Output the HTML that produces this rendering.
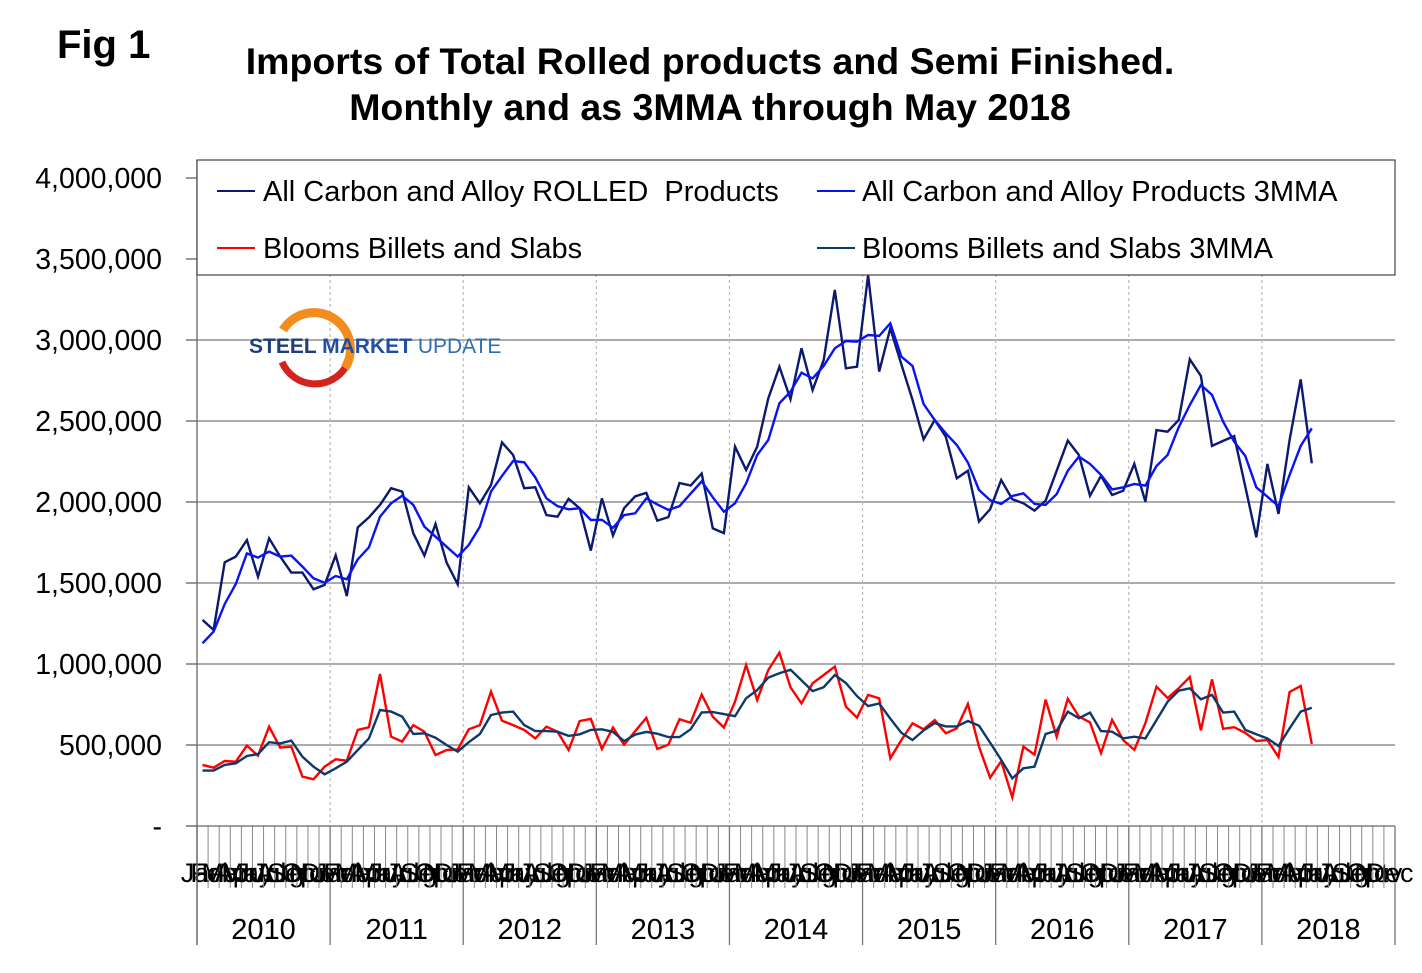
<!DOCTYPE html>
<html><head><meta charset="utf-8"><style>
html,body{margin:0;padding:0;background:#fff;}
svg{display:block;font-family:"Liberation Sans",Arial,sans-serif;}
</style></head><body>
<svg id="chart" width="1422" height="973" viewBox="0 0 1422 973" xmlns="http://www.w3.org/2000/svg">
<text x="57" y="58" font-size="40" font-weight="bold">Fig 1</text>
<text x="710" y="74" font-size="37.5" font-weight="bold" text-anchor="middle">Imports of Total Rolled products and Semi Finished.</text>
<text x="710" y="120" font-size="37.5" font-weight="bold" text-anchor="middle">Monthly and as 3MMA through May 2018</text>
<g id="grid"></g>
<g id="axes"></g>
<g id="series"></g>
<g>
  <path d="M283 330 A36 36 0 1 1 345 368" fill="none" stroke="#f28c1e" stroke-width="9"/>
  <path d="M282 362 A36 36 0 0 0 345 368" fill="none" stroke="#d2231f" stroke-width="7"/>
  <text x="249" y="353" font-size="21" font-weight="bold" fill="#1c3f7a">STEEL <tspan fill="#1f4fa0">MARKET</tspan> <tspan font-weight="normal" fill="#2f6db5">UPDATE</tspan></text>
</g>
<g>
  <rect x="197" y="160" width="1198" height="115" fill="#fff" stroke="#444" stroke-width="1.2"/>
  <g><line x1="217" y1="191" x2="255" y2="191" stroke="#0b1a6e" stroke-width="2"/><text x="263" y="201" font-size="29" xml:space="preserve" style="white-space:pre">All Carbon and Alloy ROLLED  Products</text></g>
  <g><line x1="817" y1="191" x2="855" y2="191" stroke="#0a14f0" stroke-width="2"/><text x="862" y="201" font-size="29">All Carbon and Alloy Products 3MMA</text></g>
  <g><line x1="217" y1="248" x2="255" y2="248" stroke="#ff0000" stroke-width="2"/><text x="263" y="258" font-size="29">Blooms Billets and Slabs</text></g>
  <g><line x1="817" y1="248" x2="855" y2="248" stroke="#0d3a6a" stroke-width="2"/><text x="862" y="258" font-size="29">Blooms Billets and Slabs 3MMA</text></g>
</g>
</svg>
<script>
const months = ["Jan","Feb","Mar","Apr","May","Jun","Jul","Aug","Sep","Oct","Nov","Dec"];
const years = ["2010","2011","2012","2013","2014","2015","2016","2017","2018"];
const yTicks = [0,500000,1000000,1500000,2000000,2500000,3000000,3500000,4000000];
const yTickLabels = ["-","500,000","1,000,000","1,500,000","2,000,000","2,500,000","3,000,000","3,500,000","4,000,000"];
// values in thousands of tons, Jan 2010 .. May 2018
const rolled = [1272,1210,1628,1663,1765,1539,1776,1663,1564,1564,1461,1488,
1671,1420,1844,1905,1982,2085,2064,1807,1669,1864,1626,1492,
2091,1992,2105,2368,2290,2085,2091,1920,1909,2020,1961,1700,
2022,1793,1962,2035,2057,1885,1907,2117,2101,2176,1837,1808,
2342,2198,2342,2640,2835,2634,2949,2691,2877,3309,2825,2835,
3401,2805,3072,2849,2630,2387,2506,2403,2146,2193,1879,1955,
2136,2017,1992,1947,2008,2193,2379,2290,2039,2161,2043,2070,
2235,2002,2444,2434,2506,2881,2778,2346,2377,2407,2095,1782,
2235,1926,2383,2757,2239];
const rolled3 = [1128,1200,1370,1494,1683,1657,1694,1663,1669,1601,1529,1502,
1543,1523,1646,1720,1909,1992,2039,1982,1848,1786,1724,1663,
1735,1848,2064,2161,2253,2245,2152,2023,1975,1955,1961,1889,
1890,1841,1919,1930,2022,1985,1951,1974,2051,2128,2029,1940,
1992,2115,2290,2383,2609,2681,2798,2763,2840,2949,2994,2990,
3031,3025,3103,2897,2840,2605,2506,2424,2352,2243,2074,2012,
1988,2037,2054,1988,1982,2049,2193,2280,2235,2167,2078,2091,
2111,2101,2222,2290,2461,2599,2722,2661,2496,2372,2284,2091,
2033,1975,2167,2346,2455];
const blooms = [377,360,401,397,496,434,613,484,490,305,288,366,
412,403,593,609,938,551,521,623,582,438,469,473,
597,623,829,650,623,593,541,613,582,469,648,661,
476,608,502,586,667,476,502,659,637,811,674,608,
767,994,778,963,1070,856,757,881,932,984,737,669,
809,788,418,531,634,597,654,572,603,753,490,298,
400,177,490,440,780,550,785,675,640,450,655,530,
470,635,860,790,850,920,590,905,600,610,575,525,
530,426,827,864,506];
const blooms3 = [342,342,377,387,432,444,517,510,527,428,366,319,
356,397,469,541,716,706,675,568,572,545,500,459,
517,568,685,700,706,623,586,586,582,556,566,593,
597,581,524,564,581,570,549,549,597,701,703,691,
678,788,839,916,943,965,899,833,857,932,883,802,
740,756,663,575,531,590,635,615,615,648,619,515,
408,294,356,366,568,588,706,665,700,586,582,541,
551,541,654,767,835,850,782,809,700,706,593,566,
541,494,603,706,730];

const NS="http://www.w3.org/2000/svg";
const X0=197, X1=1395, Y0=826, Y4=178;
const nMonths = months.length*years.length;
const step=(X1-X0)/nMonths;
function xPos(i){return X0+(i+0.5)*step;}
function xEdge(i){return X0+i*step;}
function yPos(v){return Y0-(v/4000000)*(Y0-Y4);}
function mk(tag,attrs,parent){const e=document.createElementNS(NS,tag);for(const k in attrs)e.setAttribute(k,attrs[k]);parent.appendChild(e);return e;}
const grid=document.getElementById('grid'), axes=document.getElementById('axes'), ser=document.getElementById('series');

yTicks.forEach((t,k)=>{
  const y=yPos(t);
  if(k>0){const g=mk('line',{x1:X0,x2:X1,y1:y,y2:y,stroke:'#7a7a7a','stroke-width':1.3},grid);
    
    }
  const tk=mk('line',{x1:186,x2:X0,y1:y,y2:y,stroke:'#555','stroke-width':1.2},axes);
  
  
  const lb=mk('text',{x:162,y:y+10,'font-size':28.5,'text-anchor':'end'},axes);
  lb.textContent=yTickLabels[k];
  
  
});
years.forEach((yr,j)=>{
  if(j>0){const d=mk('line',{x1:xEdge(j*12),x2:xEdge(j*12),y1:160,y2:Y0,stroke:'#bbb','stroke-width':1.2,'stroke-dasharray':'3,3'},grid);
    
    }
  const s=mk('line',{x1:xEdge(j*12),x2:xEdge(j*12),y1:Y0,y2:945,stroke:'#777','stroke-width':1.3},axes);
  
  
  const t=mk('text',{x:xEdge(j*12)+6*step,y:939,'font-size':29,'text-anchor':'middle'},axes);
  t.textContent=yr;
  
  
});
const lastSep=mk('line',{x1:X1,x2:X1,y1:Y0,y2:945,stroke:'#777','stroke-width':1.3},axes);


for(let i=0;i<nMonths;i++){
  if(i%12!==0){const m=mk('line',{x1:xEdge(i),x2:xEdge(i),y1:Y0,y2:888,stroke:'#888','stroke-width':1},axes);
    
    }
  const t=mk('text',{x:xPos(i),y:882,'font-size':27,'text-anchor':'middle'},axes);
  t.textContent=months[i%12];
  
  
}
const ya=mk('line',{x1:X0,x2:X0,y1:160,y2:945,stroke:'#666','stroke-width':1.3},axes);


const xa=mk('line',{x1:186,x2:X1,y1:Y0,y2:Y0,stroke:'#666','stroke-width':1.3},axes);



function drawLine(arr,color,w){
  const pts=arr.map((v,i)=>xPos(i).toFixed(1)+','+yPos(v*1000).toFixed(1)).join(' ');
  return mk('polyline',{points:pts,fill:'none',stroke:color,'stroke-width':w,'stroke-linejoin':'miter'},ser);
}
const l1=drawLine(blooms,'#ff0000',2.4);


const l2=drawLine(blooms3,'#0d3a6a',2.4);


const l3=drawLine(rolled,'#0b1a6e',2.4);


const l4=drawLine(rolled3,'#0a14f0',2.4);


</script>
</body></html>
